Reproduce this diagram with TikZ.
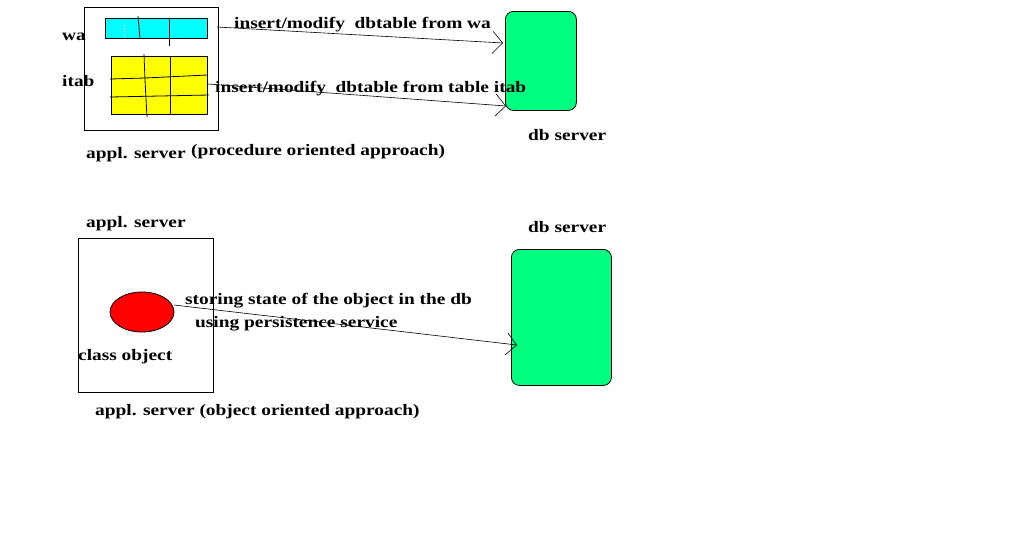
\documentclass[tikz,border=0pt]{standalone}
\usepackage{fontspec}
\setmainfont{Liberation Serif}[FakeStretch=1.21]
\usetikzlibrary{arrows.meta,shapes.geometric}
\definecolor{dbgreen}{RGB}{0,255,128}
\definecolor{wacyan}{RGB}{0,255,255}
\definecolor{tabyellow}{RGB}{255,255,0}
\definecolor{objred}{RGB}{255,0,0}
\begin{document}
\begin{tikzpicture}[x=1pt,y=-1pt,
  lbl/.style={inner sep=0pt,anchor=base west,font=\fontsize{16}{19}\selectfont\bfseries},
  box/.style={draw=black,line width=0.8pt,inner sep=0pt,anchor=north west},
  dbbox/.style={draw=black,fill=dbgreen,line width=0.8pt,rounded corners=8pt,inner sep=0pt,anchor=north west},
  conn/.style={line width=0.6pt,-{Straight Barb[length=10pt,width=22pt,line width=0.6pt]}},
  grid/.style={line width=0.8pt}]
\useasboundingbox (0,0) rectangle (1018,558);
% ---- top: procedure oriented
\node[box,minimum width=134pt,minimum height=123pt] (app1) at (84,7) {};
\node[box,fill=wacyan,minimum width=102pt,minimum height=20pt] (wa) at (105,18) {};
\draw[grid] (138,16) -- (140,39);
\draw[grid] (169,18) -- (169,46);
\draw[white,line width=1pt,dotted] (124,25) -- (124,40);
\node[box,fill=tabyellow,minimum width=96pt,minimum height=58pt] (itab) at (111,56) {};
\draw[grid] (144,54) -- (145,80) -- (147,117);
\draw[grid] (170,56) -- (170,114);
\draw[grid] (110,79) -- (145,78) -- (207,75);
\draw[grid] (110,97) -- (160,96) -- (209,95);
\node[dbbox,minimum width=71pt,minimum height=99pt] (db1) at (505,11) {};
\coordinate (s1) at (217,27);
\coordinate (t1) at (503,43);
\coordinate (s2) at (208,84);
\coordinate (t2) at (506,106);
\draw[conn] (s1) -- (t1);
\draw[conn] (s2) -- (t2);
\node[lbl] (l1) at (234,28) {insert/modify\ \ dbtable from wa};
\node[lbl] (l2) at (215,92) {insert/modify\ \ dbtable from table itab};
\node[lbl] (lwa) at (62,40) {wa};
\node[lbl] (litab) at (62,86) {itab};
\node[lbl] (lapp1) at (86,158) {appl. server};
\node[lbl] (lproc) at (191,155) {(procedure oriented approach)};
\node[lbl] (ldb1) at (528,140) {db server};
% ---- bottom: object oriented
\node[lbl] (lapp2) at (86,227) {appl. server};
\node[lbl] (ldb2) at (528,232) {db server};
\node[box,minimum width=135pt,minimum height=154pt] (app2) at (78,238) {};
\node[draw=black,fill=objred,ellipse,line width=0.8pt,minimum width=64pt,minimum height=40pt,inner sep=0pt] (obj) at (142,312) {};
\node[dbbox,minimum width=100pt,minimum height=136pt] (db2) at (511,249) {};
\coordinate (s3) at (174,305);
\coordinate (t3) at (517,345);
\draw[conn] (s3) -- (t3);
\node[lbl] (l3) at (185,304) {storing state of the object in the db};
\node[lbl] (l4) at (195,327) {using persistence service};
\node[lbl] (lobj) at (78,360) {class object};
\node[lbl] (lapp3) at (95,415) {appl. server (object oriented approach)};
\end{tikzpicture}
\end{document}
